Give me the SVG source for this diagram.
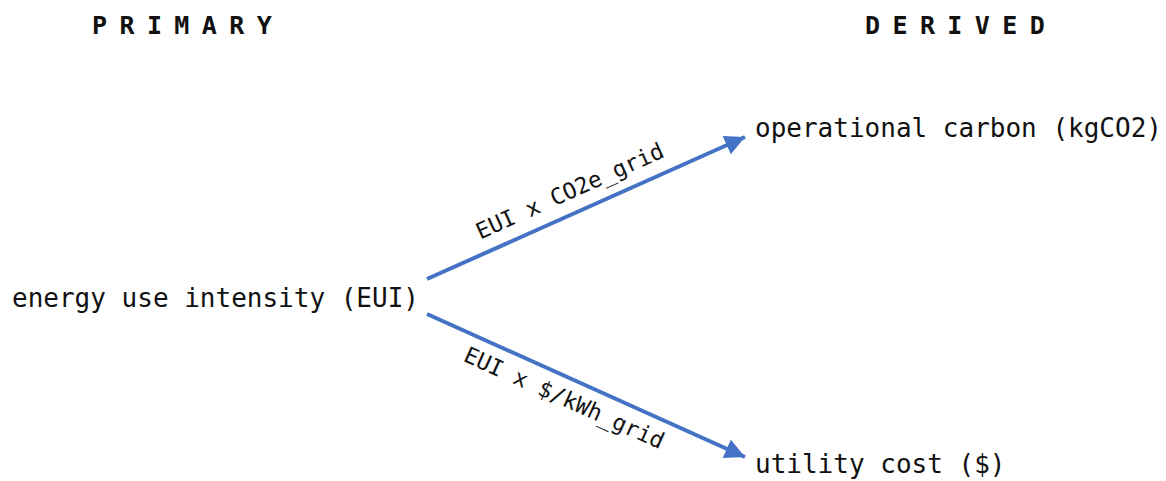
<svg xmlns="http://www.w3.org/2000/svg" width="1166" height="481" viewBox="0 0 1166 481">
<style>
.t{font-family:"DejaVu Sans Mono","Liberation Mono",monospace;font-size:26px;fill:#111}
.h{font-family:"DejaVu Sans Mono","Liberation Mono",monospace;font-size:25px;font-weight:bold;letter-spacing:12.4px;fill:#111}
.l{font-family:"DejaVu Sans Mono","Liberation Mono",monospace;font-size:22.5px;fill:#111;text-anchor:middle}
.c{stroke:#4472C4;stroke-width:4;fill:none}
</style>
<defs>
<marker id="ah" viewBox="0 0 10 10" refX="10" refY="5" markerWidth="5.5" markerHeight="5" orient="auto" markerUnits="strokeWidth">
<path d="M0,0 L10,5 L0,10 z" fill="#4472C4"/>
</marker>
</defs>
<g id="headers">
<text class="h" x="92" y="34">PRIMARY</text>
<text class="h" x="865" y="34">DERIVED</text>
</g>
<g id="node-eui"><text class="t" x="12" y="307">energy use intensity (EUI)</text></g>
<g id="node-carbon"><text class="t" x="755" y="137">operational carbon (kgCO2)</text></g>
<g id="node-cost"><text class="t" x="755" y="473">utility cost ($)</text></g>
<g id="connectors">
<line class="c" x1="427" y1="279" x2="745" y2="137" marker-end="url(#ah)"/>
<line class="c" x1="427" y1="314" x2="745" y2="457" marker-end="url(#ah)"/>
<text class="l" transform="translate(573,198) rotate(-24.2)">EUI x CO2e_grid</text>
<text class="l" transform="translate(561,405) rotate(24.2)">EUI x $/kWh_grid</text>
</g>
</svg>
